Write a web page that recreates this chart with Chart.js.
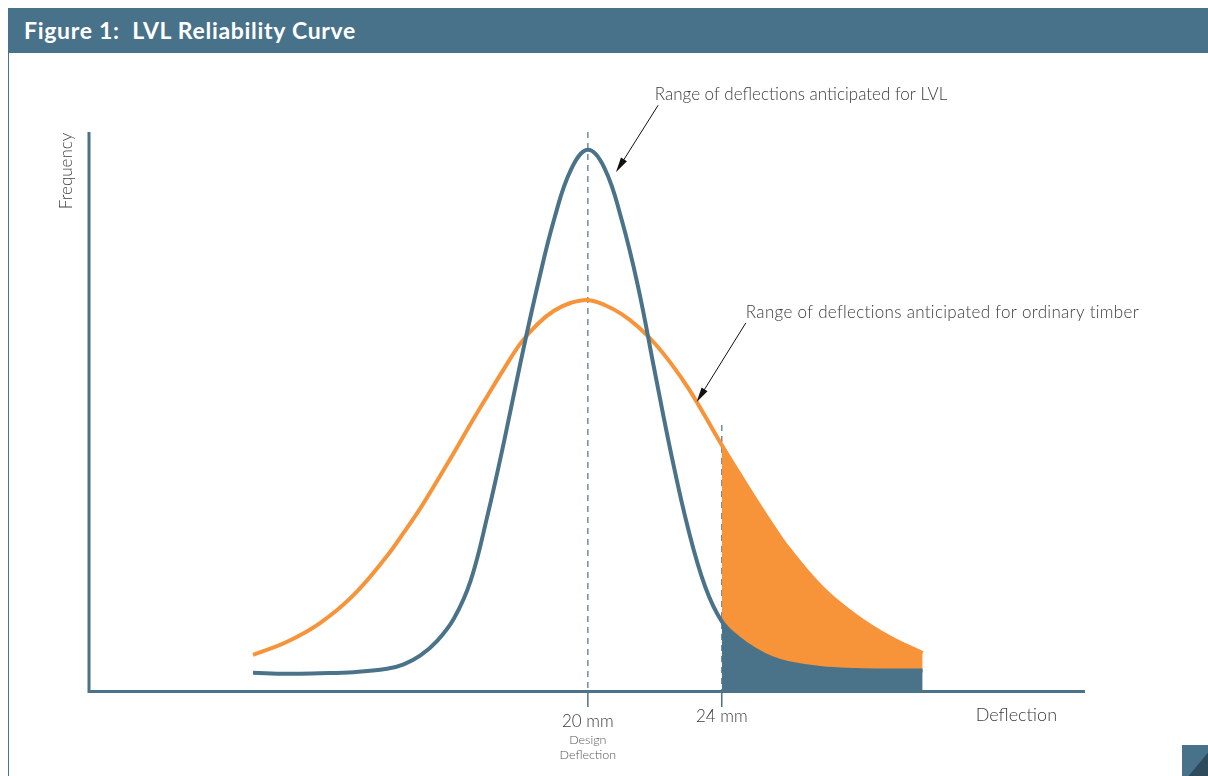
<!DOCTYPE html>
<html>
<head>
<meta charset="utf-8">
<title>LVL Reliability Curve</title>
<script src="https://cdn.jsdelivr.net/npm/chart.js@4.4.1/dist/chart.umd.min.js"></script>
<style>
  body { margin: 0; background: #fff; }
  .page { position: relative; width: 1208px; height: 776px; overflow: hidden; }
  .header {
    position: absolute; left: 8px; top: 8px; width: 1200px; height: 45px;
    background: #48718a; color: #fff;
    font: bold 23px Lato, "Open Sans", sans-serif; line-height: 45px; letter-spacing: 0.7px;
    padding-left: 16px; box-sizing: border-box; white-space: pre;
  }
  .edge { position: absolute; left: 8px; top: 53px; width: 1px; height: 723px; background: #48718a; }
  .corner { position: absolute; left: 1182px; top: 745px; width: 26px; height: 31px; background: #48718a; }
  .corner::after {
    content: ''; position: absolute; inset: 0; background: #2e4b5c;
    clip-path: polygon(100% 25%, 100% 100%, 25% 100%);
  }
  canvas { position: absolute; left: 0; top: 0; }
</style>
</head>
<body>
<div class="page">
  <div class="header">Figure 1:  LVL Reliability Curve</div>
  <div class="edge"></div>
  <div class="corner"></div>
  <canvas id="reliabilityChart" width="1208" height="776"></canvas>
</div>
<script>
// deflection (mm) and relative frequency (% of axis height)
const deflectionMM = [10, 11, 12, 13, 14, 14.5, 15, 15.5, 16, 16.5, 17, 17.5, 18, 18.5, 19, 19.5, 20,
  20.5, 21, 21.5, 22, 22.5, 23, 23.5, 24, 24.5, 25, 25.5, 26, 27, 28, 29, 30];
const lvlFreq = [3.1, 2.9, 3.0, 3.2, 3.8, 4.6, 6.2, 8.8, 12.8, 19.6, 31.2, 44.6, 59.0, 72.5, 84.5, 93.3, 96.8,
  93.5, 84.5, 72.3, 57.0, 42.0, 28.8, 18.6, 12.3, 9.3, 7.2, 5.7, 4.8, 3.9, 3.6, 3.5, 3.5];
const timberFreq = [6.3, 8.6, 12.0, 17.0, 24.0, 28.2, 32.6, 37.5, 42.5, 47.7, 52.7, 57.6, 62.2, 65.6, 68.0, 69.4, 69.9,
  69.0, 67.4, 65.1, 62.1, 58.4, 54.1, 49.1, 43.9, 39.0, 34.2, 29.6, 25.3, 18.3, 13.3, 9.5, 6.6];

const designDeflection = 20;
const limitDeflection = 24;
const limitLineTop = 47.5;
const tickLabels = ['20 mm', '24 mm'];
const xTitle = 'Deflection';
const yTitle = 'Frequency';

const lvlLabel = 'Range of deflections anticipated for LVL';
const timberLabel = 'Range of deflections anticipated for ordinary timber';

const slate = '#4a7389';
const orange = '#f7943a';
const textColor = '#3b3b3b';
const font = 'Lato, "Open Sans", sans-serif';

const toPoints = (xs, ys) => xs.map((x, i) => ({ x: x, y: ys[i] }));
const tail = pts => pts.filter(p => p.x >= limitDeflection);

const lvlPoints = toPoints(deflectionMM, lvlFreq);
const timberPoints = toPoints(deflectionMM, timberFreq);

function arrow(ctx, x1, y1, x2, y2) {
  const ang = Math.atan2(y2 - y1, x2 - x1);
  ctx.beginPath();
  ctx.moveTo(x1, y1);
  ctx.lineTo(x2 - Math.cos(ang) * 10, y2 - Math.sin(ang) * 10);
  ctx.stroke();
  ctx.beginPath();
  ctx.moveTo(x2, y2);
  ctx.lineTo(x2 - Math.cos(ang) * 15 + Math.sin(ang) * 3.5, y2 - Math.sin(ang) * 15 - Math.cos(ang) * 3.5);
  ctx.lineTo(x2 - Math.cos(ang) * 15 - Math.sin(ang) * 3.5, y2 - Math.sin(ang) * 15 + Math.cos(ang) * 3.5);
  ctx.closePath();
  ctx.fill();
}

const overlay = {
  id: 'overlay',
  beforeDatasetsDraw(chart) {
    const { ctx, chartArea: a, scales: { x, y } } = chart;
    ctx.save();
    ctx.strokeStyle = '#6f8e9e';
    ctx.lineWidth = 1.5;
    ctx.setLineDash([6, 5]);
    const xd = x.getPixelForValue(designDeflection);
    ctx.beginPath(); ctx.moveTo(xd, a.top); ctx.lineTo(xd, a.bottom); ctx.stroke();
    const xl = x.getPixelForValue(limitDeflection);
    ctx.beginPath(); ctx.moveTo(xl, y.getPixelForValue(limitLineTop)); ctx.lineTo(xl, a.bottom); ctx.stroke();
    ctx.restore();
  },
  afterDatasetsDraw(chart) {
    const { ctx, chartArea: a, scales: { x, y } } = chart;
    ctx.save();

    // axes
    ctx.strokeStyle = slate;
    ctx.lineWidth = 3;
    ctx.beginPath();
    ctx.moveTo(a.left, a.top);
    ctx.lineTo(a.left, a.bottom + 1.5);
    ctx.lineTo(a.right, a.bottom + 1.5);
    ctx.stroke();

    // ticks under the axis
    ctx.lineWidth = 1.5;
    [designDeflection, limitDeflection].forEach(v => {
      const px = x.getPixelForValue(v);
      ctx.beginPath(); ctx.moveTo(px, a.bottom); ctx.lineTo(px, a.bottom + 17); ctx.stroke();
    });

    // tick labels and titles
    ctx.fillStyle = textColor;
    ctx.textAlign = 'center';
    ctx.textBaseline = 'middle';
    ctx.font = '300 17px ' + font;
    ctx.fillText(tickLabels[0], x.getPixelForValue(designDeflection), a.bottom + 32);
    ctx.fillText(tickLabels[1], x.getPixelForValue(limitDeflection), a.bottom + 27);
    ctx.font = '300 18px ' + font;
    ctx.fillText(xTitle, x.getPixelForValue(32.8), a.bottom + 25);
    ctx.fillStyle = '#555';
    ctx.font = '300 12.5px ' + font;
    ctx.fillText('Design', x.getPixelForValue(designDeflection), a.bottom + 50);
    ctx.fillText('Deflection', x.getPixelForValue(designDeflection), a.bottom + 65);

    ctx.fillStyle = '#444';
    ctx.font = '300 17px ' + font;
    ctx.save();
    ctx.translate(a.left - 22, a.top + 39);
    ctx.rotate(-Math.PI / 2);
    ctx.fillText(yTitle, 0, 0);
    ctx.restore();

    // callouts
    ctx.fillStyle = textColor;
    ctx.textAlign = 'left';
    ctx.font = '300 17px ' + font;
    ctx.fillText(lvlLabel, x.getPixelForValue(22.0), y.getPixelForValue(106.8));
    ctx.letterSpacing = '0.3px';
    ctx.fillText(timberLabel, x.getPixelForValue(24.72), y.getPixelForValue(67.6));
    ctx.letterSpacing = '0px';
    ctx.strokeStyle = '#111';
    ctx.fillStyle = '#111';
    ctx.lineWidth = 1;
    arrow(ctx, x.getPixelForValue(22.1), y.getPixelForValue(104.8), x.getPixelForValue(20.84), y.getPixelForValue(92.8));
    arrow(ctx, x.getPixelForValue(24.72), y.getPixelForValue(65.8), x.getPixelForValue(23.25), y.getPixelForValue(51.6));

    ctx.restore();
  }
};

const curve = { pointRadius: 0, tension: 0.4 };

new Chart(document.getElementById('reliabilityChart'), {
  type: 'line',
  data: {
    datasets: [
      {
        ...curve,
        label: 'LVL',
        data: lvlPoints,
        borderColor: slate,
        borderWidth: 4,
        fill: false,
        order: 1
      },
      {
        ...curve,
        label: 'Ordinary timber',
        data: timberPoints,
        borderColor: orange,
        borderWidth: 4,
        fill: false,
        order: 2
      },
      {
        ...curve,
        label: 'LVL tail',
        data: tail(lvlPoints),
        borderWidth: 0,
        borderColor: 'rgba(0,0,0,0)',
        backgroundColor: slate,
        fill: 'origin',
        order: 4
      },
      {
        ...curve,
        label: 'Timber tail',
        data: tail(timberPoints),
        borderWidth: 0,
        borderColor: 'rgba(0,0,0,0)',
        backgroundColor: orange,
        fill: 2,
        order: 3
      }
    ]
  },
  options: {
    responsive: false,
    animation: false,
    events: [],
    layout: { padding: { left: 89, right: 123, top: 132, bottom: 86 } },
    plugins: {
      legend: { display: false },
      tooltip: { enabled: false }
    },
    scales: {
      x: { type: 'linear', display: false, min: 5.1, max: 34.85 },
      y: { type: 'linear', display: false, min: 0, max: 100 }
    }
  },
  plugins: [overlay]
});
</script>
</body>
</html>
